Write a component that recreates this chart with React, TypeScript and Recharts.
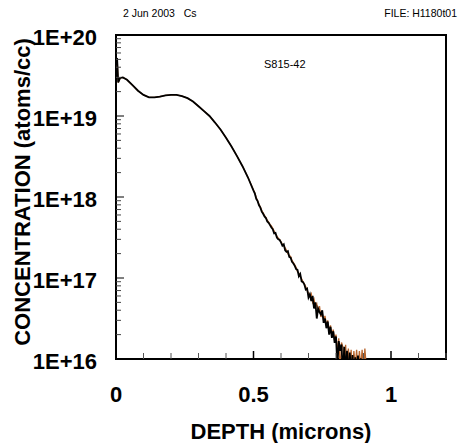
import { LineChart, Line, XAxis, YAxis, ReferenceArea } from "recharts";

// depth (microns) and Cs concentration (atoms/cc)
const depthHead = [0, 0.004, 0.008, 0.015, 0.025, 0.04, 0.06, 0.08, 0.1, 0.12, 0.14, 0.16, 0.18, 0.2, 0.22, 0.24, 0.26, 0.28, 0.3, 0.32, 0.34, 0.36, 0.38, 0.4, 0.42, 0.44, 0.46, 0.48];
const concHead = [4.2e19, 5.2e19, 2.6e19, 2.95e19, 3.0e19, 2.8e19, 2.4e19, 2.05e19, 1.82e19, 1.7e19, 1.7e19, 1.74e19, 1.8e19, 1.82e19, 1.82e19, 1.76e19, 1.66e19, 1.51e19, 1.32e19, 1.15e19, 1.0e19, 8.3e18, 6.8e18, 5.4e18, 4.2e18, 3.2e18, 2.4e18, 1.74e18];

const depthTail = [
  0.5, 0.505, 0.51, 0.515, 0.52, 0.525, 0.53, 0.535, 0.54, 0.545,
  0.55, 0.555, 0.56, 0.565, 0.57, 0.575, 0.58, 0.585, 0.59, 0.595,
  0.6, 0.605, 0.61, 0.615, 0.62, 0.625, 0.63, 0.635, 0.64, 0.645,
  0.65, 0.655, 0.66, 0.665, 0.67, 0.675, 0.68, 0.685, 0.69, 0.695,
  0.7, 0.705, 0.71, 0.715, 0.72, 0.725, 0.73, 0.735, 0.74, 0.745,
  0.75, 0.755, 0.76, 0.765, 0.77, 0.775, 0.78, 0.785, 0.79, 0.795,
  0.8, 0.805, 0.81, 0.815, 0.82, 0.825, 0.83, 0.835, 0.84, 0.845,
  0.85, 0.855, 0.86, 0.865, 0.87, 0.875, 0.88, 0.885, 0.89, 0.895,
  0.9, 0.905, 0.91,
];
const blackTail = [
  1.2e18, 1.1e18, 9.5e17, 8.9e17, 7.9e17, 7.4e17, 6.6e17, 6.2e17, 5.75e17, 5.5e17,
  5.0e17, 4.8e17, 4.5e17, 4.2e17, 4.0e17, 3.55e17, 3.6e17, 3.16e17, 3.0e17, 2.95e17,
  2.75e17, 2.5e17, 2.6e17, 2.2e17, 2.1e17, 2.15e17, 1.82e17, 1.78e17, 1.58e17, 1.51e17,
  1.41e17, 1.29e17, 1.26e17, 1.05e17, 1.12e17, 9.1e16, 8.9e16, 8.3e16, 7.2e16, 7.4e16,
  5.75e16, 6.3e16, 5.2e16, 6.0e16, 4.2e16, 5.0e16, 3.16e16, 4.2e16, 3.8e16, 3.55e16,
  4.0e16, 2.8e16, 3.16e16, 2.4e16, 2.9e16, 2.0e16, 2.5e16, 1.82e16, 2.2e16, 1.58e16,
  1.9e16, 8e15, 1.66e16, 1.26e16, 1.51e16, 6.3e15, 1.41e16, 7e15, 1.26e16, 6.3e15,
  1.2e16, 7e15, 1.12e16, 6.3e15, 1.05e16, 7e15, 1.1e16, 6.3e15, 1.02e16, 6.3e15,
];
const brownTail = [
  1.22e18, 1.12e18, 9.8e17, 9.0e17, 8.1e17, 7.5e17, 6.8e17, 6.4e17, 5.9e17, 5.6e17,
  5.2e17, 4.9e17, 4.6e17, 4.4e17, 4.1e17, 3.8e17, 3.5e17, 3.3e17, 3.1e17, 3.0e17,
  2.8e17, 2.6e17, 2.5e17, 2.35e17, 2.2e17, 2.0e17, 1.9e17, 1.85e17, 1.65e17, 1.55e17,
  1.45e17, 1.35e17, 1.2e17, 1.15e17, 1.05e17, 9.8e16, 9.0e16, 8.5e16, 7.8e16, 7.0e16,
  6.5e16, 6.0e16, 6.4e16, 5.0e16, 5.5e16, 4.4e16, 4.8e16, 3.8e16, 4.5e16, 3.3e16,
  3.7e16, 3.0e16, 3.4e16, 2.6e16, 3.0e16, 2.2e16, 2.6e16, 2.0e16, 2.3e16, 1.7e16,
  2.0e16, 1.2e16, 1.8e16, 7e15, 1.6e16, 1.4e16, 8e15, 1.5e16, 7e15, 1.35e16,
  8e15, 1.3e16, 7e15, 1.25e16, 8e15, 1.3e16, 7e15, 1.25e16, 8e15, 1.3e16,
  7e15, 1.35e16, 8e15,
];

const xTicks = [0, 0.1, 0.2, 0.3, 0.4, 0.5, 0.6, 0.7, 0.8, 0.9, 1.0, 1.1, 1.2];
const xMajor = [0, 0.5, 1.0];
const xLabels = ["0", "0.5", "1"];
const decades = [1e16, 1e17, 1e18, 1e19, 1e20];
const yLabels = ["1E+16", "1E+17", "1E+18", "1E+19", "1E+20"];
const mantissas = [1, 2, 3, 4, 5, 6, 7, 8, 9];

const yTicks: number[] = [];
decades.slice(0, 4).forEach((d) => mantissas.forEach((m) => yTicks.push(m * d)));
yTicks.push(1e20);

const data = [
  ...depthHead.map((d, i) => ({ depth: d, black: concHead[i], brown: concHead[i] })),
  ...depthTail.map((d, i) => ({ depth: d, black: blackTail[i], brown: brownTail[i] })),
];

const FONT = "'Liberation Sans', Arial, sans-serif";

const XTick = (props: any) => {
  const { x, y, payload } = props;
  const idx = xMajor.findIndex((v) => Math.abs(v - payload.value) < 1e-6);
  const major = idx >= 0;
  return (
    <g>
      <line x1={x} x2={x} y1={y} y2={y - (major ? 8 : 6)} stroke={major ? "#000" : "#555"} strokeWidth={major ? 1.5 : 1} />
      {major && (
        <text x={x} y={y + 43} textAnchor="middle" fontFamily={FONT} fontWeight="bold" fontSize={22} fill="#000">
          {xLabels[idx]}
        </text>
      )}
    </g>
  );
};

const YTick = (props: any) => {
  const { x, y, payload } = props;
  const idx = decades.findIndex((v) => Math.abs(v - payload.value) / v < 1e-6);
  const major = idx >= 0;
  return (
    <g>
      <line x1={x} x2={x + (major ? 8 : 5)} y1={y} y2={y} stroke={major ? "#000" : "#444"} strokeWidth={1} />
      {major && (
        <text x={97} y={y + 10} textAnchor="end" fontFamily={FONT} fontWeight="bold" fontSize={22} fill="#000">
          {yLabels[idx]}
        </text>
      )}
    </g>
  );
};

export default function App() {
  return (
    <div style={{ position: "absolute", left: 0, top: 0, width: 458, height: 443, background: "#fff" }}>
      <LineChart width={458} height={443} data={data} margin={{ top: 35, right: 12, bottom: 0, left: 0 }}>
        <XAxis
          dataKey="depth"
          type="number"
          domain={[0, 1.2]}
          ticks={xTicks}
          interval={0}
          height={84}
          axisLine={false}
          tickLine={false}
          tickSize={0}
          tickMargin={0}
          tick={<XTick />}
          allowDataOverflow
        />
        <YAxis
          type="number"
          scale="log"
          domain={[1e16, 1e20]}
          ticks={yTicks}
          interval={0}
          width={116}
          axisLine={false}
          tickLine={false}
          tickSize={0}
          tickMargin={0}
          tick={<YTick />}
          allowDataOverflow
        />
        <Line dataKey="brown" stroke="#b8662e" strokeWidth={1.3} dot={false} type="linear" isAnimationActive={false} />
        <Line dataKey="black" stroke="#000" strokeWidth={1.8} dot={false} type="linear" isAnimationActive={false} />
        <ReferenceArea x1={0} x2={1.2} y1={1e16} y2={1e20} fill="none" fillOpacity={0} stroke="#000" strokeWidth={2} ifOverflow="visible" />
      </LineChart>
      <svg width={458} height={443} style={{ position: "absolute", left: 0, top: 0, pointerEvents: "none" }}>
        <text x={123} y={17} fontFamily={FONT} fontSize={10.5} fill="#000" style={{ whiteSpace: "pre" }}>
          2 Jun 2003   Cs
        </text>
        <text x={457} y={17} textAnchor="end" fontFamily={FONT} fontSize={10.5} fill="#000">
          FILE: H1180t01
        </text>
        <text x={264} y={68} fontFamily={FONT} fontSize={11} fill="#000">
          S815-42
        </text>
        <text x={281} y={439} textAnchor="middle" fontFamily={FONT} fontWeight="bold" fontSize={22} fill="#000">
          DEPTH (microns)
        </text>
        <text
          x={0}
          y={0}
          transform="translate(30,192) rotate(-90)"
          textAnchor="middle"
          fontFamily={FONT}
          fontWeight="bold"
          fontSize={22}
          fill="#000"
        >
          CONCENTRATION (atoms/cc)
        </text>
      </svg>
    </div>
  );
}
